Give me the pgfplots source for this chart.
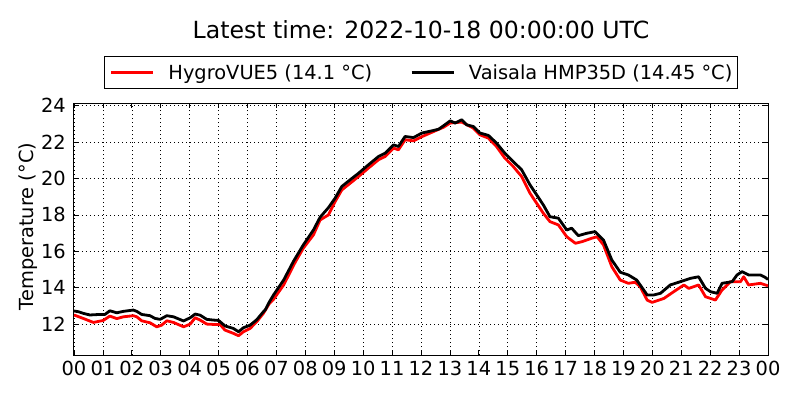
\documentclass[border=0pt]{standalone}
\usepackage{fontspec}
\setmainfont{DejaVu Sans}
\usepackage{pgfplots}
\pgfplotsset{compat=1.18}
\begin{document}
\begin{tikzpicture}
\useasboundingbox (-74pt,-45pt) rectangle (726pt,355pt);
\begin{axis}[
  at={(0pt,0pt)}, anchor=south west,
  scale only axis, width=694pt, height=252pt,
  xmin=0, xmax=24, ymin=10.3, ymax=24.15,
  xtick={0,1,...,24},
  xticklabels={00,01,02,03,04,05,06,07,08,09,10,11,12,13,14,15,16,17,18,19,20,21,22,23,00},
  ytick={12,14,16,18,20,22,24},
  /pgf/number format/assume math mode=true,
  tick label style={font=\fontsize{19.4}{23}\selectfont},
  xticklabel style={inner sep=0pt, anchor=north, yshift=-6pt},
  yticklabel style={inner sep=0pt, anchor=east, xshift=-8pt},
  tick align=inside, tick pos=both,
  major tick length=5pt,
  every tick/.style={black, line width=0.8pt},
  axis line style={black, line width=1pt},
  grid=major,
  major grid style={black, line width=0.6pt, dash pattern=on 1pt off 3pt},
  ylabel={Temperature (°C)},
  ylabel style={font=\fontsize{19.4}{23}\selectfont, at={(axis description cs:-0.0663,0.51)}, anchor=center, rotate=0},
  title={Latest time: 2022-10-18 00:00:00 UTC},
  title style={font=\fontsize{23.6}{28}\selectfont, at={(axis description cs:0.5,1.234)}, anchor=base, inner sep=0pt},
  legend columns=2,
  legend image code/.code={\draw[#1] (0pt,0pt) -- (42pt,0pt);},
  legend style={at={(axis description cs:0.5,1.121)}, anchor=center,
    draw=black, line width=1pt, inner xsep=5pt, inner ysep=7.5pt,
    font=\fontsize{19.4}{23}\selectfont,
    nodes={inner sep=0pt},
    /tikz/every odd column/.append style={column sep=14pt},
    /tikz/every even column/.append style={column sep=38pt}},
  legend cell align=left,
]
\addplot[red, line width=2.8pt, line join=round] table {
0.00 12.50
0.32 12.31
0.67 12.09
1.01 12.20
1.24 12.44
1.48 12.30
1.71 12.40
2.05 12.46
2.17 12.40
2.34 12.18
2.63 12.07
2.86 11.85
3.03 11.94
3.21 12.18
3.44 12.09
3.79 11.85
4.02 12.00
4.19 12.35
4.36 12.22
4.59 12.00
4.82 11.98
5.05 11.98
5.22 11.67
5.51 11.49
5.69 11.36
5.86 11.58
6.09 11.76
6.32 12.13
6.55 12.59
6.76 13.14
6.90 13.36
7.25 14.15
7.65 15.40
7.93 16.17
8.28 16.90
8.51 17.72
8.80 18.00
9.03 18.73
9.26 19.37
9.55 19.74
9.84 20.11
10.18 20.57
10.53 21.03
10.76 21.21
11.05 21.67
11.22 21.58
11.45 22.13
11.74 22.07
12.03 22.30
12.26 22.46
12.78 22.82
13.01 23.05
13.41 23.10
13.81 22.77
14.04 22.40
14.33 22.22
14.61 21.76
14.90 21.12
15.19 20.66
15.48 20.11
15.77 19.19
16.00 18.64
16.23 18.09
16.46 17.63
16.75 17.45
17.04 16.80
17.34 16.44
17.57 16.53
17.91 16.72
18.09 16.80
18.31 16.35
18.60 15.15
18.89 14.42
19.17 14.24
19.41 14.30
19.58 14.05
19.82 13.32
19.99 13.19
20.40 13.41
20.74 13.78
21.09 14.15
21.26 13.96
21.60 14.15
21.84 13.50
22.18 13.32
22.41 13.87
22.70 14.33
23.05 14.33
23.16 14.60
23.33 14.15
23.74 14.24
24.00 14.10
};
\addlegendentry{HygroVUE5 (14.1 °C)}
\addplot[black, line width=2.8pt, line join=round] table {
0.00 12.72
0.15 12.68
0.32 12.59
0.55 12.50
0.90 12.53
1.07 12.53
1.24 12.73
1.48 12.62
1.71 12.70
2.05 12.77
2.17 12.70
2.34 12.53
2.63 12.46
2.80 12.31
2.98 12.26
3.21 12.46
3.44 12.40
3.79 12.17
4.02 12.35
4.19 12.55
4.36 12.49
4.59 12.26
4.82 12.22
5.00 12.20
5.22 11.90
5.51 11.76
5.69 11.58
5.86 11.80
6.09 11.94
6.32 12.24
6.55 12.68
6.61 12.77
6.76 13.23
6.90 13.60
7.25 14.42
7.59 15.45
7.93 16.35
8.28 17.17
8.51 17.87
8.80 18.40
9.03 18.92
9.26 19.56
9.55 19.93
9.84 20.29
10.18 20.75
10.53 21.21
10.76 21.39
11.05 21.85
11.22 21.76
11.45 22.31
11.74 22.25
12.03 22.50
12.26 22.58
12.43 22.64
12.61 22.71
12.78 22.90
13.01 23.17
13.18 23.05
13.41 23.23
13.58 22.95
13.81 22.86
14.04 22.50
14.33 22.37
14.61 21.95
14.90 21.39
15.19 20.93
15.48 20.48
15.77 19.65
16.00 19.10
16.23 18.55
16.46 17.90
16.75 17.82
17.04 17.17
17.21 17.27
17.44 16.86
17.73 16.99
18.02 17.08
18.31 16.62
18.60 15.52
18.89 14.85
19.17 14.70
19.46 14.42
19.58 14.15
19.82 13.60
20.05 13.60
20.28 13.69
20.62 14.15
20.97 14.33
21.31 14.51
21.60 14.60
21.84 13.96
22.01 13.78
22.24 13.69
22.41 14.24
22.76 14.33
22.93 14.70
23.10 14.88
23.33 14.70
23.74 14.70
23.90 14.57
24.00 14.45
};
\addlegendentry{Vaisala HMP35D (14.45 °C)}
\end{axis}
\end{tikzpicture}
\end{document}
